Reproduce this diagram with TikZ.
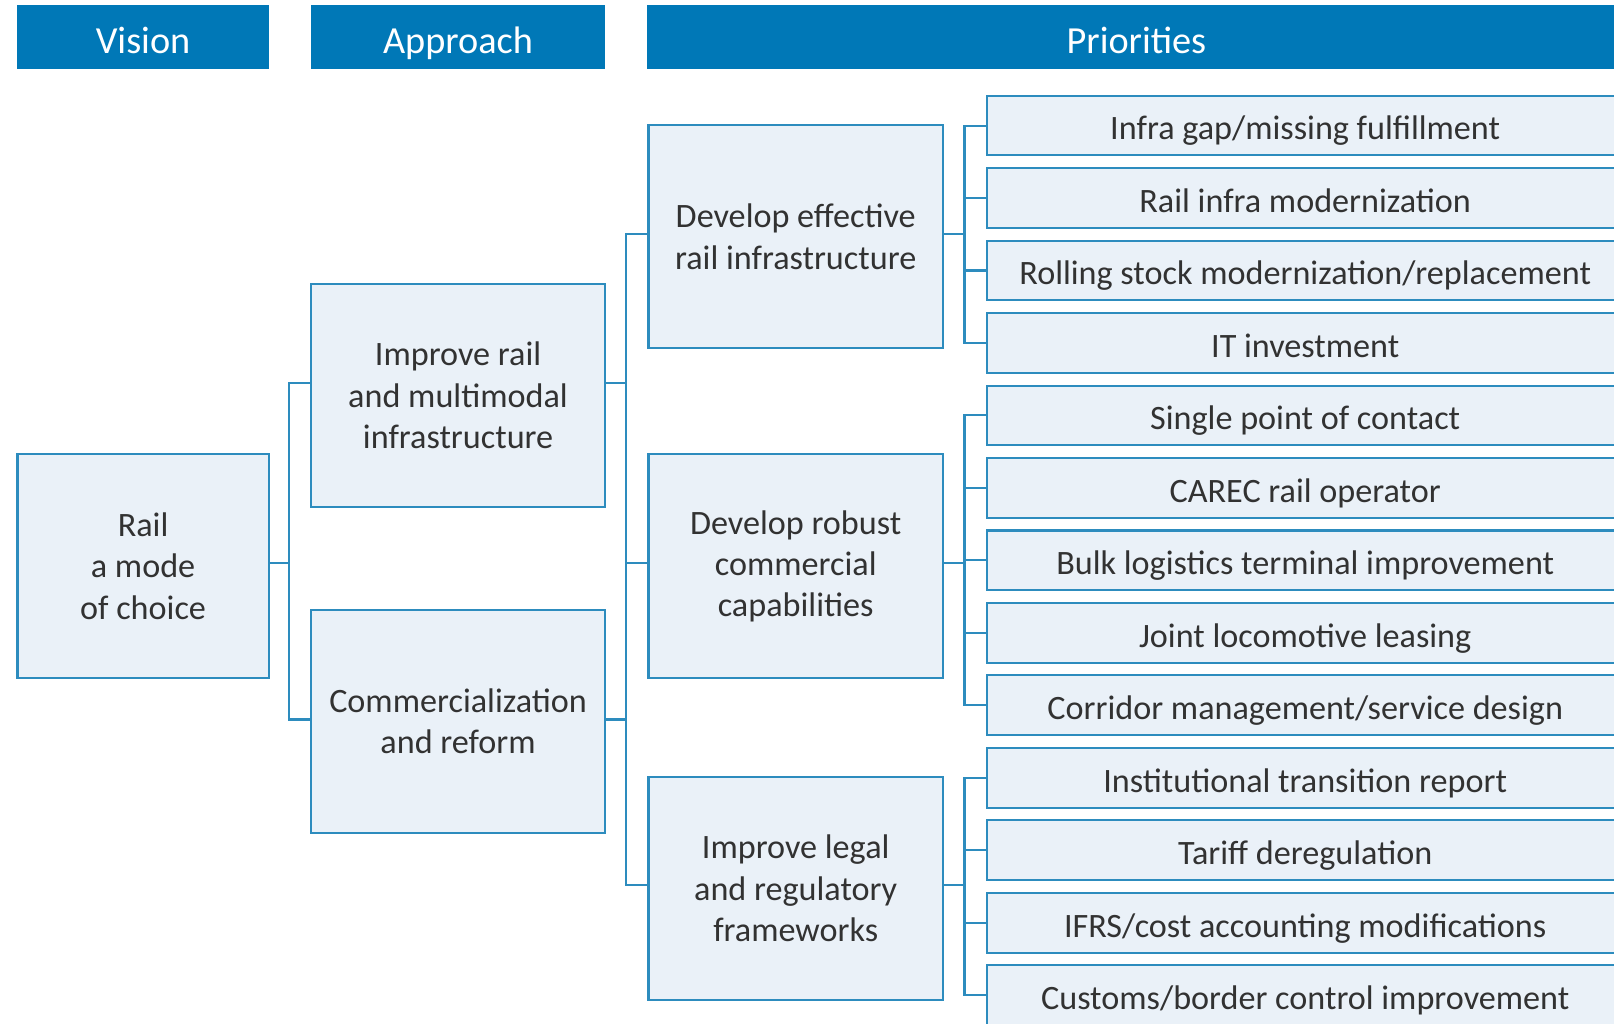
\documentclass[tikz,border=0pt]{standalone}
\usepackage{fontspec}
\setmainfont{Carlito}
\usetikzlibrary{calc}
\definecolor{hdr}{RGB}{0,120,183}
\definecolor{ln}{RGB}{45,140,190}
\definecolor{bx}{RGB}{234,241,248}
\definecolor{txt}{RGB}{50,50,50}
\begin{document}
\begin{tikzpicture}[x=0.5pt,y=-0.5pt,
  hdrbox/.style={fill=hdr,text=white,minimum height=31pt,inner sep=0pt,text height=16pt,text depth=0pt,font=\fontsize{18.6}{22}\selectfont},
  lvbox/.style={draw=ln,fill=bx,line width=1pt,text=txt,minimum height=108.5pt,minimum width=143pt,inner sep=0pt,align=center,font=\fontsize{16.6}{20}\selectfont},
  itbox/.style={draw=ln,fill=bx,line width=1pt,text=txt,minimum height=29pt,minimum width=309pt,inner sep=0pt,text height=14pt,text depth=0pt,font=\fontsize{16.6}{20}\selectfont},
  conn/.style={draw=ln,line width=1pt}]
\useasboundingbox (0,0) rectangle (1568,994);
\fill[white] (0,0) rectangle (1568,994);
% headers
\node[hdrbox,minimum width=122pt] (hv) at (139,36) {Vision};
\node[hdrbox,minimum width=143pt] (ha) at (445,36) {Approach};
\node[hdrbox,minimum width=475pt] (hp) at (1104,36) {Priorities};
% vision
\node[lvbox,minimum width=122pt] (rail) at (139,550) {Rail\\a mode\\of choice};
% approach
\node[lvbox] (imp) at (445,384) {Improve rail\\and multimodal\\infrastructure};
\node[lvbox] (com) at (445,701) {Commercialization\\and reform};
% priorities
\node[lvbox] (d1) at (773,230) {Develop effective\\rail infrastructure};
\node[lvbox] (d2) at (773,550) {Develop robust\\commercial\\capabilities};
\node[lvbox] (d3) at (773,863) {Improve legal\\and regulatory\\frameworks};
% items
\node[itbox] (i1) at (1268,122.0) {Infra gap/missing fulfillment};
\node[itbox] (i2) at (1268,192.4) {Rail infra modernization};
\node[itbox] (i3) at (1268,262.8) {Rolling stock modernization/replacement};
\node[itbox] (i4) at (1268,333.2) {IT investment};
\node[itbox] (i5) at (1268,403.6) {Single point of contact};
\node[itbox] (i6) at (1268,474.0) {CAREC rail operator};
\node[itbox] (i7) at (1268,544.4) {Bulk logistics terminal improvement};
\node[itbox] (i8) at (1268,614.8) {Joint locomotive leasing};
\node[itbox] (i9) at (1268,685.2) {Corridor management/service design};
\node[itbox] (i10) at (1268,755.6) {Institutional transition report};
\node[itbox] (i11) at (1268,826.0) {Tariff deregulation};
\node[itbox] (i12) at (1268,896.4) {IFRS/cost accounting modifications};
\node[itbox] (i13) at (1268,966.8) {Customs/border control improvement};
% connectors level 1
\draw[conn] ([yshift=1.5pt]rail.east) -| ($([yshift=6pt]imp.west)+(-20,0)$) -- ([yshift=6pt]imp.west);
\draw[conn] ([yshift=1.5pt]rail.east) -| ($([yshift=1pt]com.west)+(-20,0)$) -- ([yshift=1pt]com.west);
% level 2
\draw[conn] ([yshift=6pt]imp.east) -| ($([yshift=1.5pt]d1.west)+(-21,0)$) -- ([yshift=1.5pt]d1.west);
\draw[conn] ([yshift=6pt]imp.east) -| ($([yshift=1.5pt]d2.west)+(-21,0)$) -- ([yshift=1.5pt]d2.west);
\draw[conn] ([yshift=1pt]com.east) -| ($([yshift=1.5pt]d2.west)+(-21,0)$) -- ([yshift=1.5pt]d2.west);
\draw[conn] ([yshift=1pt]com.east) -| ($([yshift=1.5pt]d3.west)+(-21,0)$) -- ([yshift=1.5pt]d3.west);
% level 3
\foreach \c in {i1,i2,i3,i4}{\draw[conn] ([yshift=1.5pt]d1.east) -| ($(\c.west)+(-21,0)$) -- (\c.west);}
\foreach \c in {i5,i6,i7,i8,i9}{\draw[conn] ([yshift=1.5pt]d2.east) -| ($(\c.west)+(-21,0)$) -- (\c.west);}
\foreach \c in {i10,i11,i12,i13}{\draw[conn] ([yshift=1.5pt]d3.east) -| ($(\c.west)+(-21,0)$) -- (\c.west);}
\end{tikzpicture}
\end{document}
